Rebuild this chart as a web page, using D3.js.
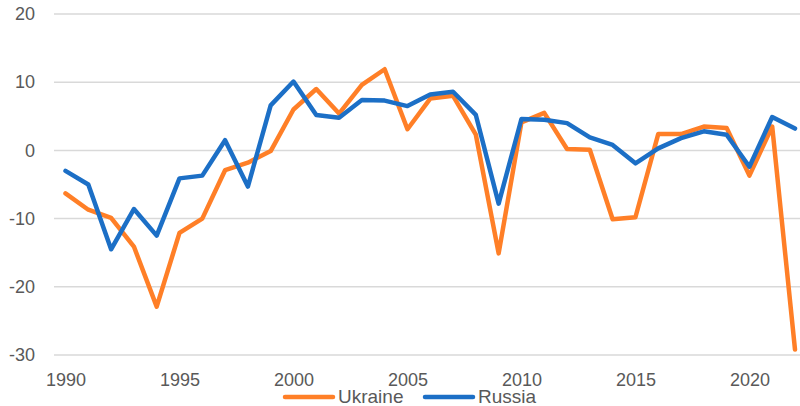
<!DOCTYPE html>
<html>
<head>
<meta charset="utf-8">
<script src="https://cdn.jsdelivr.net/npm/d3@7"></script>
<style>
  html, body { margin: 0; padding: 0; background: #fff; }
  svg { display: block; font-family: "Liberation Sans", Arial, sans-serif; }
</style>
</head>
<body>
<svg id="chart" width="800" height="406"></svg>
<script>
const years = d3.range(1990, 2023);
const ukraine = [-6.3, -8.7, -9.9, -14.1, -22.9, -12.1, -10.0, -2.9, -1.8, -0.1,
  6.0, 9.0, 5.4, 9.6, 11.9, 3.1, 7.6, 8.0, 2.3, -15.1,
  4.1, 5.5, 0.2, 0.1, -10.1, -9.8, 2.4, 2.4, 3.5, 3.3,
  -3.7, 3.5, -29.2];
const russia = [-3.0, -5.0, -14.5, -8.6, -12.5, -4.1, -3.7, 1.5, -5.3, 6.6,
  10.1, 5.2, 4.8, 7.4, 7.3, 6.5, 8.2, 8.6, 5.2, -7.8,
  4.6, 4.5, 4.0, 1.9, 0.8, -1.9, 0.3, 1.8, 2.8, 2.3,
  -2.4, 4.9, 3.2];
const yTicks = [-30, -20, -10, 0, 10, 20];
const xTickYears = [1990, 1995, 2000, 2005, 2010, 2015, 2020];
const seriesNames = ["Ukraine", "Russia"];
const seriesColors = ["#FF7F27", "#1C6FC6"];

const svg = d3.select("#chart");
const plotLeft = 54, plotRight = 800;

const x = d3.scalePoint().domain(years).range([65.5, 795]);
const y = d3.scaleLinear().domain([-30, 20]).range([355, 14]);

// gridlines
svg.append("g").selectAll("line").data(yTicks).join("line")
  .attr("x1", plotLeft).attr("x2", plotRight)
  .attr("y1", d => y(d)).attr("y2", d => y(d))
  .attr("stroke", "#d9d9d9").attr("stroke-width", 1.5);

// y axis labels (plain hyphen minus as in the reference)
const yAxis = d3.axisLeft(y).tickValues(yTicks).tickSize(0).tickPadding(0)
  .tickFormat(d => String(d));
const gy = svg.append("g").attr("transform", "translate(35,0)").call(yAxis);
gy.select(".domain").remove();
gy.selectAll("text").attr("font-size", 18).attr("fill", "#595959")
  .attr("font-family", "'Liberation Sans', Arial, sans-serif");

// x axis labels
const xAxis = d3.axisBottom(x).tickValues(xTickYears).tickSize(0).tickPadding(0)
  .tickFormat(d => String(d));
const gx = svg.append("g").attr("transform", "translate(0,373)").call(xAxis);
gx.select(".domain").remove();
gx.selectAll("text").attr("font-size", 18).attr("fill", "#595959")
  .attr("font-family", "'Liberation Sans', Arial, sans-serif");

// lines
const line = d3.line().x((d, i) => x(years[i])).y(d => y(d));
[ukraine, russia].forEach((vals, i) => {
  svg.append("path").datum(vals)
    .attr("d", line)
    .attr("fill", "none")
    .attr("stroke", seriesColors[i])
    .attr("stroke-width", 4.5)
    .attr("stroke-linejoin", "round")
    .attr("stroke-linecap", "round");
});

// legend
const legendItems = [
  { name: seriesNames[0], color: seriesColors[0], x: 285 },
  { name: seriesNames[1], color: seriesColors[1], x: 425 }
];
const lg = svg.append("g");
legendItems.forEach(it => {
  lg.append("line").attr("x1", it.x).attr("x2", it.x + 48)
    .attr("y1", 397).attr("y2", 397)
    .attr("stroke", it.color).attr("stroke-width", 4.5).attr("stroke-linecap", "round");
  lg.append("text").attr("x", it.x + 53).attr("y", 403)
    .attr("font-size", 19).attr("fill", "#595959").text(it.name);
});
</script>
</body>
</html>
